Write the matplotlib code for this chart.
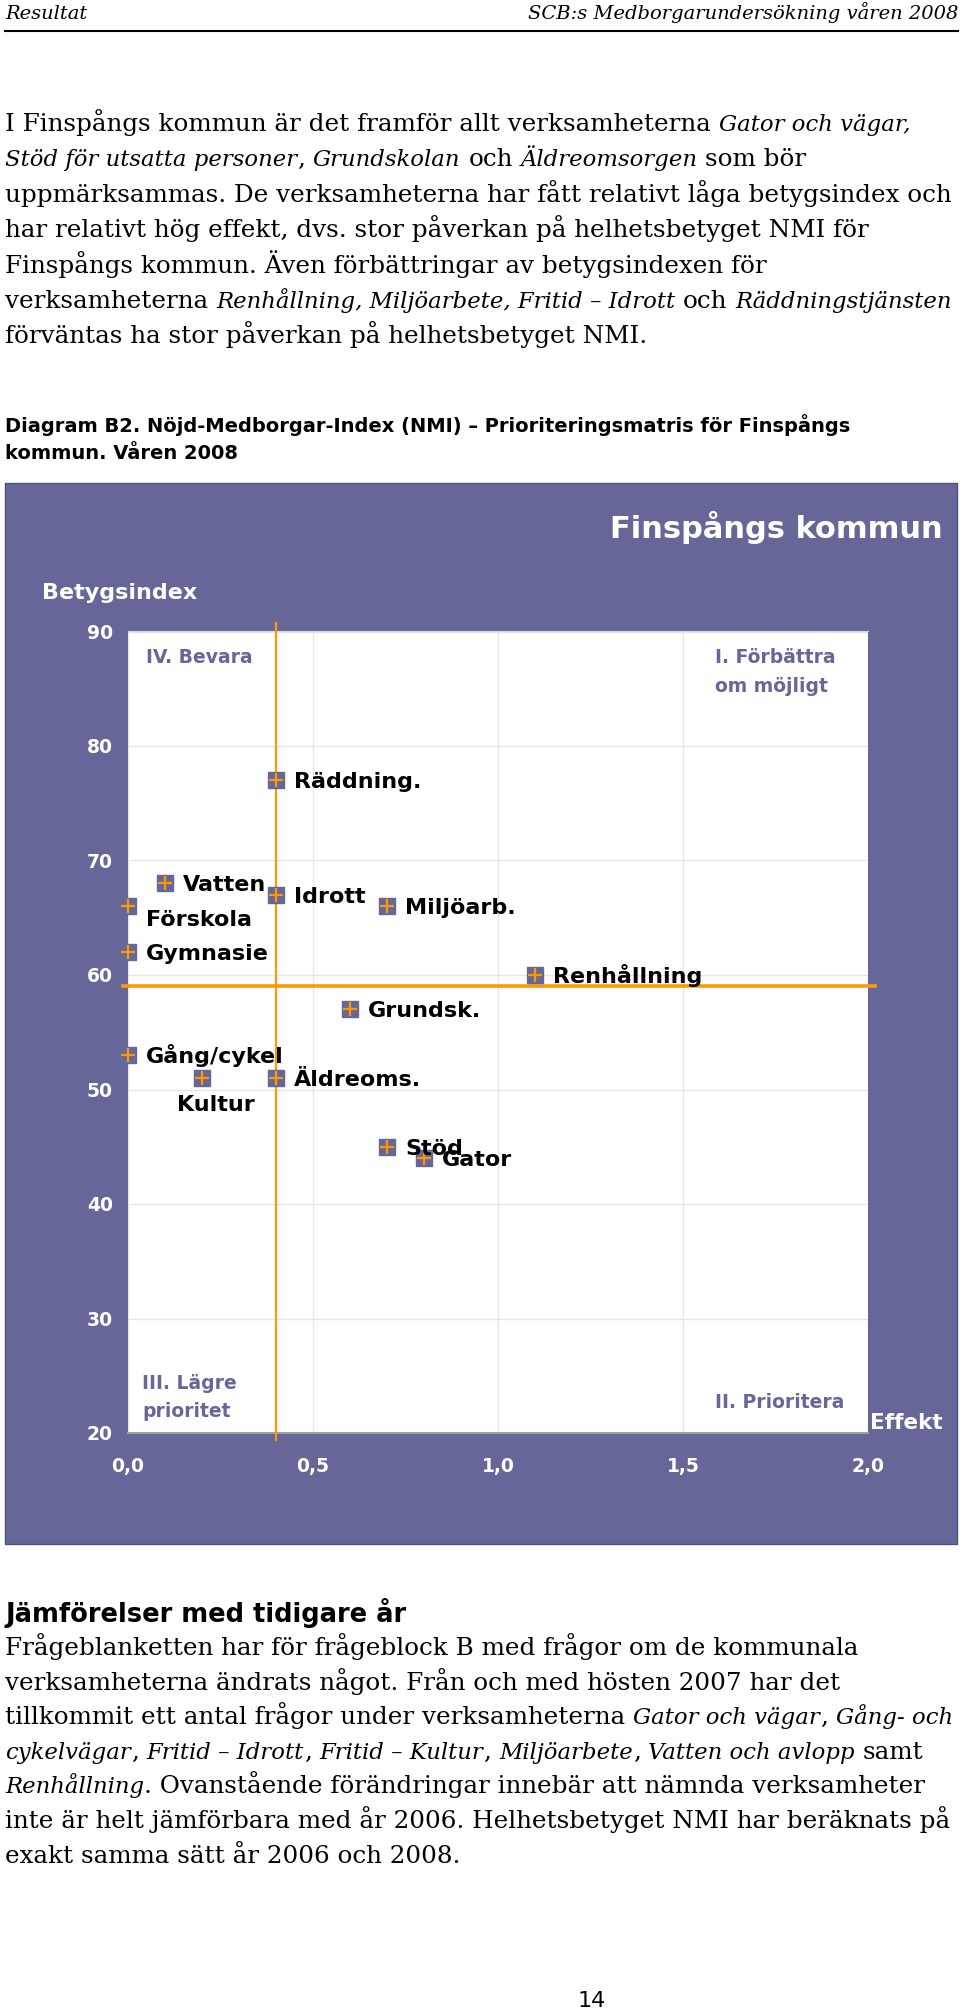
import matplotlib
matplotlib.use('Agg')
import matplotlib.pyplot as plt
from matplotlib.patches import Rectangle
from matplotlib.lines import Line2D
import numpy as np

names = ['Räddning.', 'Vatten', 'Idrott', 'Förskola', 'Miljöarb.', 'Gymnasie',
         'Renhållning', 'Grundsk.', 'Gång/cykel', 'Kultur', 'Äldreoms.', 'Stöd', 'Gator']
effekt = [0.40, 0.10, 0.40, 0.00, 0.70, 0.00, 1.10, 0.60, 0.00, 0.20, 0.40, 0.70, 0.80]
betyg = [77, 68, 67, 66, 66, 62, 60, 57, 53, 51, 51, 45, 44]
mean_effekt = 0.40
mean_betyg = 59.0
x_ticks = [0.0, 0.5, 1.0, 1.5, 2.0]
y_ticks = [20, 30, 40, 50, 60, 70, 80, 90]

# label offsets (pixels) from the marker
label_offsets = {'Förskola': (18, -20), 'Kultur': (-25, -33)}

W, H = 960, 2011
PURPLE = '#666699'
ORANGE = '#FF9900'
SERIF = 'DejaVu Serif'
BODY = 17.7
BODY_IT = 16.4   # the italic runs are narrower in the original

plt.rcParams['font.family'] = 'DejaVu Sans'


def fx(x):
    return x / W


def fy(y):
    return 1 - y / H


fig = plt.figure(figsize=(W / 100, H / 100), dpi=100)
renderer = fig.canvas.get_renderer()


def space_width(size, style):
    t1 = fig.text(0, 0, 'a a', family=SERIF, style=style, fontsize=size)
    t2 = fig.text(0, 0, 'aa', family=SERIF, style=style, fontsize=size)
    w = t1.get_window_extent(renderer).width - t2.get_window_extent(renderer).width
    t1.remove()
    t2.remove()
    return w


def rich_line(x, y, parts):
    # parts: list of (text, italic); runs are laid out one after another
    for txt, italic in parts:
        style = 'italic' if italic else 'normal'
        size = BODY_IT if italic else BODY
        sp = space_width(size, style)
        lead = len(txt) - len(txt.lstrip(' '))
        trail = len(txt) - len(txt.rstrip(' '))
        x += lead * sp
        t = fig.text(fx(x), fy(y), txt.strip(' '), family=SERIF, style=style,
                     fontsize=size, va='baseline', ha='left')
        x = t.get_window_extent(renderer).x1 + trail * sp


# --- page header ---
fig.text(fx(5), fy(19), 'Resultat', family=SERIF, style='italic', fontsize=14, va='baseline')
fig.text(fx(958), fy(19), 'SCB:s Medborgarundersökning våren 2008', family=SERIF,
         style='italic', fontsize=14, va='baseline', ha='right')
fig.add_artist(Line2D([fx(5), fx(958)], [fy(31), fy(31)], color='black', lw=1.5))

para1 = [
    [('I Finspångs kommun är det framför allt verksamheterna ', False), ('Gator och vägar,', True)],
    [('Stöd för utsatta personer', True), (', ', False), ('Grundskolan', True), (' och ', False),
     ('Äldreomsorgen', True), (' som bör', False)],
    [('uppmärksammas. De verksamheterna har fått relativt låga betygsindex och', False)],
    [('har relativt hög effekt, dvs. stor påverkan på helhetsbetyget NMI för', False)],
    [('Finspångs kommun. Även förbättringar av betygsindexen för', False)],
    [('verksamheterna ', False), ('Renhållning, Miljöarbete, Fritid – Idrott', True), (' och ', False),
     ('Räddningstjänsten', True)],
    [('förväntas ha stor påverkan på helhetsbetyget NMI.', False)],
]
for i, parts in enumerate(para1):
    rich_line(5, 131 + 35.4 * i, parts)

fig.text(fx(5), fy(432), 'Diagram B2. Nöjd-Medborgar-Index (NMI) – Prioriteringsmatris för Finspångs',
         fontsize=14, fontweight='bold', va='baseline')
fig.text(fx(5), fy(459), 'kommun. Våren 2008', fontsize=14, fontweight='bold', va='baseline')

# --- chart panel ---
fig.add_artist(Rectangle((fx(5), fy(1544)), (957 - 5) / W, (1544 - 483) / H, transform=fig.transFigure,
                         facecolor=PURPLE, edgecolor='#50507a', lw=1, zorder=-1))
fig.text(fx(943), fy(538), 'Finspångs kommun', color='white', fontsize=22, fontweight='bold',
         ha='right', va='baseline')
fig.text(fx(42), fy(599), 'Betygsindex', color='white', fontsize=16, fontweight='bold', va='baseline')
fig.text(fx(870), fy(1429), 'Effekt', color='white', fontsize=15.5, fontweight='bold', va='baseline')

ax = fig.add_axes([fx(128), fy(1433), 740 / W, (1433 - 631.5) / H])
ax.set_facecolor('white')
ax.set_xlim(0, 2)
ax.set_ylim(20, 90)
ax.set_xticks(x_ticks)
ax.set_xticklabels([f'{v:.1f}'.replace('.', ',') for v in x_ticks])
ax.set_yticks(y_ticks)
ax.tick_params(length=0, labelcolor='white', labelsize=13.5)
ax.tick_params(axis='y', pad=11)
ax.tick_params(axis='x', pad=17)
for lab in ax.get_xticklabels() + ax.get_yticklabels():
    lab.set_fontweight('bold')
ax.grid(color='#e6e6e6', lw=1)
ax.set_axisbelow(True)
for s in ['left', 'right']:
    ax.spines[s].set_visible(False)
ax.spines['top'].set_color('#d8d8d8')
ax.spines['bottom'].set_color('#a0a0a0')
ax.spines['bottom'].set_linewidth(1.5)

# mean lines (extend a little past the plot area)
ax.plot([mean_effekt, mean_effekt], [19.4, 90.7], color=ORANGE, lw=1.6, clip_on=False, zorder=3)
ax.plot([-0.014, 2.02], [mean_betyg, mean_betyg], color=ORANGE, lw=2.6, clip_on=False, zorder=3)

ax.plot(effekt, betyg, ls='none', marker='s', ms=11.5, mfc=PURPLE, mec=PURPLE, zorder=4)
ax.plot(effekt, betyg, ls='none', marker='+', ms=10, mec=ORANGE, mew=1.6, zorder=5, clip_on=False)
for name, x, y in zip(names, effekt, betyg):
    dx, dy = label_offsets.get(name, (18, -8))
    ax.annotate(name, (x, y), xytext=(dx, dy), textcoords='offset pixels', ha='left',
                va='baseline', fontsize=16, fontweight='bold', color='black', zorder=6,
                annotation_clip=False)

# quadrant captions
quad_kw = dict(color=PURPLE, fontsize=13.5, fontweight='bold', va='baseline')
fig.text(fx(146), fy(663), 'IV. Bevara', **quad_kw)
fig.text(fx(715), fy(663), 'I. Förbättra', **quad_kw)
fig.text(fx(715), fy(692), 'om möjligt', **quad_kw)
fig.text(fx(142), fy(1389), 'III. Lägre', **quad_kw)
fig.text(fx(142), fy(1417), 'prioritet', **quad_kw)
fig.text(fx(715), fy(1408), 'II. Prioritera', **quad_kw)

# --- section below the chart ---
fig.text(fx(5), fy(1622), 'Jämförelser med tidigare år', fontsize=18.5, fontweight='bold', va='baseline')
para2 = [
    [('Frågeblanketten har för frågeblock B med frågor om de kommunala', False)],
    [('verksamheterna ändrats något. Från och med hösten 2007 har det', False)],
    [('tillkommit ett antal frågor under verksamheterna ', False), ('Gator och vägar', True), (', ', False),
     ('Gång- och', True)],
    [('cykelvägar', True), (', ', False), ('Fritid – Idrott', True), (', ', False), ('Fritid – Kultur', True),
     (', ', False), ('Miljöarbete', True), (', ', False), ('Vatten och avlopp', True), (' samt', False)],
    [('Renhållning', True), ('. Ovanstående förändringar innebär att nämnda verksamheter', False)],
    [('inte är helt jämförbara med år 2006. Helhetsbetyget NMI har beräknats på', False)],
    [('exakt samma sätt år 2006 och 2008.', False)],
]
for i, parts in enumerate(para2):
    rich_line(5, 1655 + 34.6 * i, parts)

fig.text(fx(592), fy(2007), '14', fontsize=16, ha='center', va='baseline')

fig.savefig('out.png', dpi=100, facecolor='white')
